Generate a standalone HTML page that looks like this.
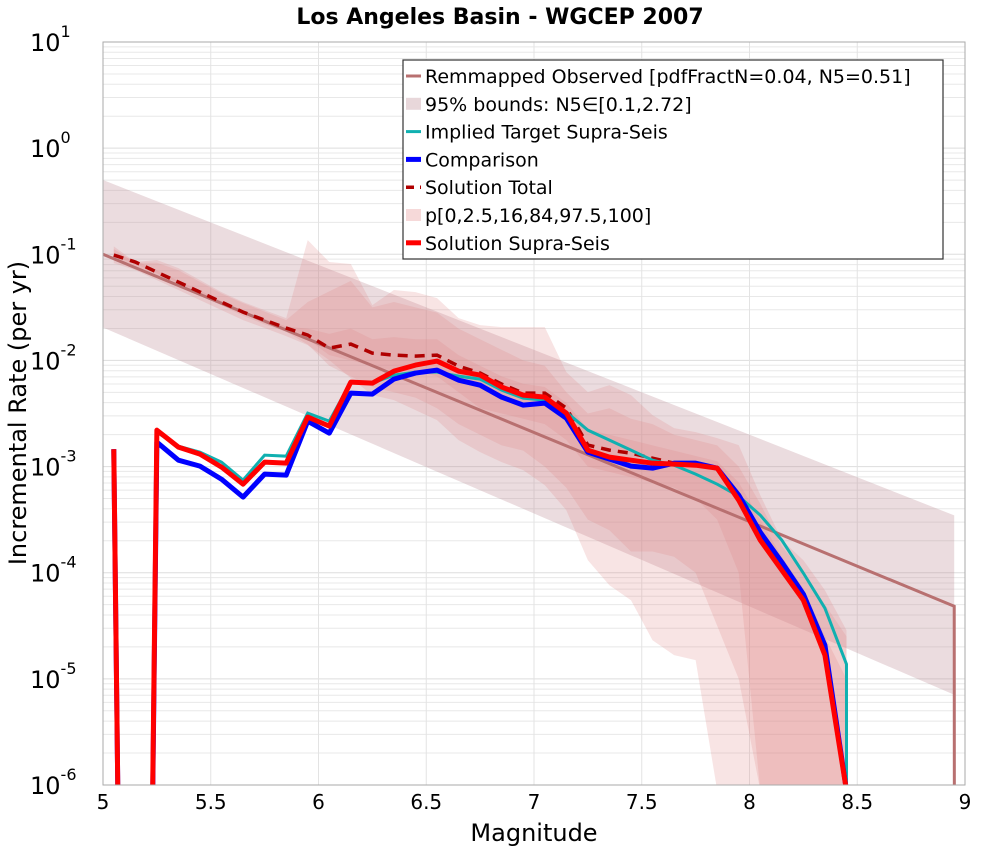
<!DOCTYPE html>
<html><head><meta charset="utf-8"><style>
html,body{margin:0;background:#fff;overflow:hidden;width:1000px;height:850px}
svg{display:block}
svg text{font-family:"DejaVu Sans","Liberation Sans",sans-serif}
</style></head><body>
<svg id="chart" width="1000" height="850" viewBox="0 0 1000 850" xmlns="http://www.w3.org/2000/svg">
<rect x="0" y="0" width="1000" height="850" fill="#fff"/>
<text x="500" y="24" text-anchor="middle" font-size="22" font-weight="bold">Los Angeles Basin - WGCEP 2007</text>
<g id="grid"></g>
<g id="plot" clip-path="url(#clip)"></g>
<defs><clipPath id="clip"><rect x="103" y="42" width="862" height="743"/></clipPath></defs>
<rect x="103" y="42" width="862" height="743" fill="none" stroke="#aaa" stroke-width="1"/>
<g id="axes"></g>
<text x="534" y="841" text-anchor="middle" font-size="24">Magnitude</text>
<text transform="translate(26,413) rotate(-90)" text-anchor="middle" font-size="24">Incremental Rate (per yr)</text>
<g id="legend"></g>
</svg>
<script>
// magnitude bins 5.05 .. 8.45 ; values are log10(rate)
const mags = [5.05,5.15,5.25,5.35,5.45,5.55,5.65,5.75,5.85,5.95,6.05,6.15,6.25,6.35,6.45,6.55,6.65,6.75,6.85,6.95,7.05,7.15,7.25,7.35,7.45,7.55,7.65,7.75,7.85,7.95,8.05,8.15,8.25,8.35,8.45];
const solSupra = [-2.836,-20,-2.657,-2.817,-2.883,-3.005,-3.166,-2.958,-2.968,-2.534,-2.619,-2.204,-2.214,-2.101,-2.044,-2.006,-2.101,-2.138,-2.251,-2.327,-2.346,-2.496,-2.845,-2.911,-2.940,-2.968,-2.977,-2.987,-3.015,-3.317,-3.693,-3.976,-4.259,-4.777,-6.05];
const comparison = [-2.836,-20,-2.770,-2.940,-2.996,-3.119,-3.288,-3.071,-3.081,-2.572,-2.685,-2.308,-2.317,-2.176,-2.119,-2.091,-2.186,-2.233,-2.346,-2.421,-2.402,-2.544,-2.864,-2.930,-2.996,-3.015,-2.968,-2.968,-3.015,-3.269,-3.618,-3.901,-4.202,-4.683,-6.05];
const implied = [-2.836,-20,-2.676,-2.808,-2.864,-2.958,-3.128,-2.892,-2.902,-2.496,-2.572,-2.204,-2.214,-2.138,-2.110,-2.110,-2.148,-2.176,-2.280,-2.355,-2.374,-2.487,-2.657,-2.751,-2.845,-2.940,-2.987,-3.071,-3.166,-3.279,-3.458,-3.693,-4.004,-4.334,-4.862,-60];
const solTotal = [-1.007,-1.073,-1.168,-1.262,-1.356,-1.450,-1.545,-1.620,-1.695,-1.761,-1.884,-1.846,-1.931,-1.950,-1.959,-1.950,-2.054,-2.119,-2.223,-2.308,-2.308,-2.449,-2.798,-2.845,-2.874,-2.921,-2.968,-2.987,-3.015,-3.317,-3.693,-3.976,-4.259,-4.777,-6.05];
const p100 = [-0.925,-1.073,-1.054,-1.130,-1.243,-1.356,-1.450,-1.526,-1.601,-0.866,-1.073,-1.092,-1.479,-1.337,-1.356,-1.413,-1.601,-1.667,-1.686,-1.686,-1.686,-2.110,-2.299,-2.233,-2.327,-2.515,-2.638,-2.676,-2.732,-2.798,-3.269,-3.693,-3.882,-4.165,-4.542];
const p97 = [-0.95,-1.08,-1.08,-1.15,-1.26,-1.37,-1.46,-1.54,-1.62,-1.45,-1.35,-1.25,-1.5,-1.45,-1.5,-1.55,-1.7,-1.8,-1.9,-2.0,-2.05,-2.3,-2.5,-2.45,-2.55,-2.6,-2.7,-2.75,-2.8,-3.0,-3.35,-3.75,-4.0,-4.3,-4.6];
const p84 = [-0.99,-1.06,-1.15,-1.25,-1.34,-1.44,-1.53,-1.61,-1.68,-1.7,-1.75,-1.7,-1.8,-1.78,-1.8,-1.8,-1.95,-2.05,-2.15,-2.22,-2.25,-2.4,-2.65,-2.7,-2.75,-2.8,-2.85,-2.9,-2.95,-3.15,-3.5,-3.85,-4.15,-4.6,-5.0];
const p16 = [-1.02,-1.09,-1.18,-1.27,-1.37,-1.46,-1.56,-1.63,-1.71,-1.8,-1.95,-2.0,-2.05,-2.1,-2.1,-2.15,-2.3,-2.45,-2.5,-2.55,-2.6,-2.75,-3.0,-3.05,-3.1,-3.15,-3.2,-3.3,-3.5,-4.0,-7,-7,-7,-7,-7];
const p2 = [-1.04,-1.11,-1.2,-1.29,-1.39,-1.48,-1.58,-1.66,-1.73,-1.85,-2.05,-2.15,-2.25,-2.3,-2.35,-2.45,-2.6,-2.7,-2.8,-2.85,-3.0,-3.2,-3.5,-3.6,-3.8,-3.8,-3.85,-4.0,-4.5,-5.0,-7,-7,-7,-7,-7];
const p0 = [-1.083,-1.149,-1.243,-1.337,-1.432,-1.526,-1.620,-1.695,-1.771,-1.856,-1.997,-2.167,-2.327,-2.374,-2.468,-2.563,-2.751,-2.864,-2.958,-3.034,-3.175,-3.411,-3.882,-4.118,-4.259,-4.636,-4.777,-4.824,-7,-7,-7,-7,-7,-7,-7];
const obsMags = [5.0,8.95,8.955];
const obsLog = [-1.0,-4.316,-20];
const obsUpper = [-0.3,-3.46];
const obsLower = [-1.69,-5.15];
const xTicks = [5,5.5,6,6.5,7,7.5,8,8.5,9];
const xTickLabels = ["5","5.5","6","6.5","7","7.5","8","8.5","9"];
const yTicks = [1,0,-1,-2,-3,-4,-5,-6];

const X0=103,X1=965,Y0=42,Y1=785;
const xs = m => X0+(m-5)/4*(X1-X0);
const ys = l => Y0+(1-l)/7*(Y1-Y0);
const NS="http://www.w3.org/2000/svg";
function mk(tag,parent,attrs){const e=document.createElementNS(NS,tag);for(const k in attrs)e.setAttribute(k,attrs[k]);parent.appendChild(e);return e;}
const grid=document.getElementById('grid'),plot=document.getElementById('plot'),axes=document.getElementById('axes'),leg=document.getElementById('legend');

for(let d=-6;d<1;d++){for(let k=1;k<10;k++){const y=ys(d+Math.log10(k));
 const g=mk('line',grid,{x1:X0,x2:X1,y1:y,y2:y,stroke:k==1?'#ddd':'#e8e8e8','stroke-width':1});
 
 }}
xTicks.forEach(m=>{const g=mk('line',grid,{x1:xs(m),x2:xs(m),y1:Y0,y2:Y1,stroke:'#e3e3e3','stroke-width':1});
 
 });

function bandPath(mArr,up,lo){let d='';mArr.forEach((m,i)=>{d+=(i?'L':'M')+xs(m)+','+ys(Math.max(up[i],-6.05))});
 for(let i=mArr.length-1;i>=0;i--)d+='L'+xs(mArr[i])+','+ys(Math.max(lo[i],-6.05));return d+'Z';}
// polyline clipped at floor log -6.1 (interpolating crossings)
function linePath(mArr,v){const F=-6.1;let d='',pen=false;
 for(let i=0;i<mArr.length;i++){
  if(i>0){const a=v[i-1],b=v[i];
   if((a>=F)!==(b>=F)){const t=(F-a)/(b-a);const m=mArr[i-1]+t*(mArr[i]-mArr[i-1]);
    if(a>=F){d+='L'+xs(m)+','+ys(F);pen=false;}else{d+='M'+xs(m)+','+ys(F);pen=true;}}}
  if(v[i]>=F){d+=(pen?'L':'M')+xs(mArr[i])+','+ys(v[i]);pen=true;}
 }return d;}

let e=mk('path',plot,{d:bandPath([5.0,8.95],obsUpper,obsLower),fill:'rgba(190,140,150,0.3)'});


[[p0,p100],[p2,p97],[p16,p84]].forEach(([lo,up])=>{const b=mk('path',plot,{d:bandPath(mags,up,lo),fill:'rgba(225,130,130,0.22)'});
 
 });
e=mk('path',plot,{d:linePath(obsMags,obsLog),fill:'none',stroke:'#b87070','stroke-width':3});


e=mk('path',plot,{d:linePath(mags,solTotal),fill:'none',stroke:'#b00000','stroke-width':3.5,'stroke-dasharray':'10,7'});


e=mk('path',plot,{d:linePath(mags.concat([8.46]),implied),fill:'none',stroke:'#10b0b0','stroke-width':3});


e=mk('path',plot,{d:linePath(mags,comparison),fill:'none',stroke:'#0000ff','stroke-width':5,'stroke-linejoin':'round'});


e=mk('path',plot,{d:linePath(mags,solSupra),fill:'none',stroke:'#ff0000','stroke-width':5,'stroke-linejoin':'round'});



xTicks.forEach((m,i)=>{const t=mk('text',axes,{x:xs(m),y:809,'text-anchor':'middle','font-size':20});t.textContent=xTickLabels[i];
 
 });
yTicks.forEach(d=>{const t=mk('text',axes,{x:30,y:ys(d)+9,'font-size':24});
 
 
 t.textContent='10';const s=mk('tspan',t,{dy:-14,'font-size':16});s.textContent=String(d);});

e=mk('rect',leg,{x:403,y:60,width:540,height:199,fill:'#fff',stroke:'#333','stroke-width':1.2});


const items=[['Remmapped Observed [pdfFractN=0.04, N5=0.51]','line','#b87070',3,''],
['95% bounds: N5∈[0.1,2.72]','patch','rgba(190,140,150,0.35)',0,''],
['Implied Target Supra-Seis','line','#10b0b0',3,''],
['Comparison','line','#0000ff',5,''],
['Solution Total','line','#b00000',3.5,'8,6'],
['p[0,2.5,16,84,97.5,100]','patch','rgba(225,130,130,0.3)',0,''],
['Solution Supra-Seis','line','#ff0000',5,'']];
items.forEach((it,i)=>{const y=76+i*27.8;const g=mk('g',leg,{});
 
 
 if(it[1]=='line')mk('line',g,{x1:406,x2:421,y1:y,y2:y,stroke:it[2],'stroke-width':it[3],'stroke-dasharray':it[4]||'none'});
 else mk('rect',g,{x:406,y:y-6,width:15,height:12,fill:it[2]});
 const t=mk('text',g,{x:425,y:y+7,'font-size':19});t.textContent=it[0];});
</script>
</body></html>
